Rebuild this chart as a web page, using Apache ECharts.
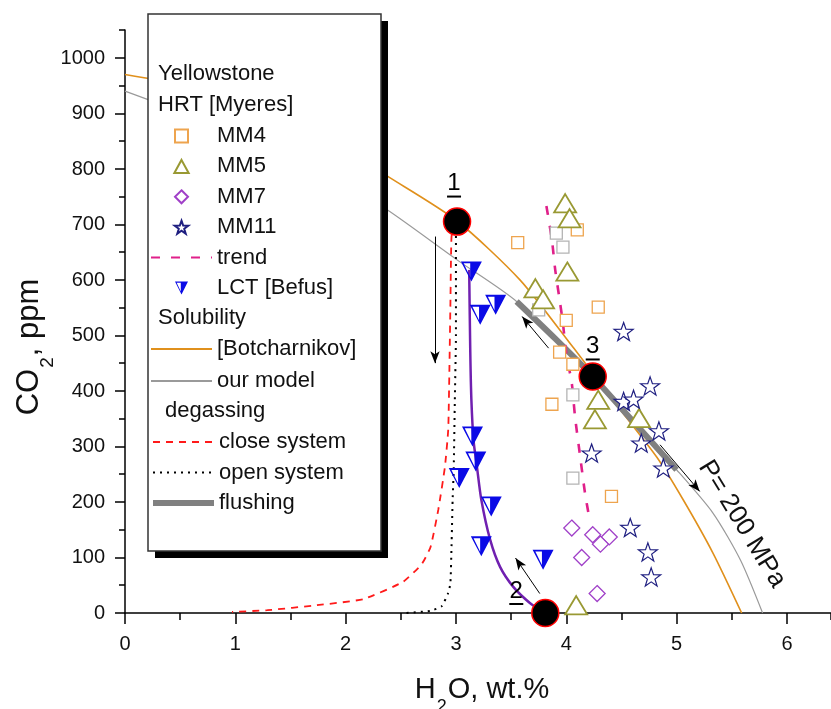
<!DOCTYPE html>
<html>
<head>
<meta charset="utf-8">
<title>CO2 - H2O Yellowstone</title>
<script src="https://cdn.jsdelivr.net/npm/echarts@6/dist/echarts.min.js"></script>
<style>
  html, body { margin: 0; padding: 0; background: #fff; }
  #chart { width: 831px; height: 709px; }
</style>
</head>
<body>
<div id="chart"></div>
<script>
// solubility curves at P = 200 MPa (H2O wt.%, CO2 ppm)
var botcharnikov = [[0,970],[0.5,952],[1,923],[1.5,883],[2,832],[2.4,784],[3.01,706],[3.58,600],[4.06,479],[4.24,432],[4.49,366],[4.82,281],[5.06,204],[5.33,108],[5.59,0]];
var ourModel = [[0,940],[0.5,903],[1,863],[1.5,820],[2,772],[2.4,723],[3.01,636],[3.55,561],[4.24,426],[5.0,258],[5.33,180],[5.58,95],[5.78,0]];
var flushing = [[3.55,561],[3.9,494],[4.24,426],[4.62,342],[5.0,258]];
// degassing paths
var closeSystem = [[2.99,704],[2.96,678],[2.95,558],[2.94,430],[2.93,330],[2.9,263],[2.84,186],[2.77,119],[2.69,88],[2.52,56],[2.16,25],[1.74,14],[1.29,5],[0.97,2]];
var openSystem = [[3.0,704],[3.0,500],[2.99,384],[2.98,260],[2.97,204],[2.96,120],[2.95,54],[2.93,36],[2.87,12],[2.77,4],[2.55,0]];
var trend = [[3.82,733],[3.87,672],[3.9,618],[3.94,564],[3.97,522],[4.0,468],[4.05,414],[4.08,353],[4.13,276],[4.17,216],[4.21,170]];
var lctLine = [[3.12,618],[3.13,470],[3.14,384],[3.16,310],[3.19,264],[3.23,204],[3.31,132],[3.4,83],[3.52,47],[3.67,18],[3.79,2]];
// melt inclusions
var mm4 = [[4.10,690],[3.56,667],[4.29,551],[4.0,527],[3.94,470],[4.06,448],[3.87,376],[4.41,210]];
var mm4Grey = [[3.91,684],[3.97,659],[3.75,546],[4.06,393],[4.06,243]];
var mm5 = [[3.99,738],[4.03,711],[4.01,615],[3.72,585],[3.79,565],[4.29,384],[4.26,349],[4.66,351],[4.09,14]];
var mm7 = [[4.05,153],[4.24,141],[4.39,137],[4.31,124],[4.14,100],[4.28,35]];
var mm11 = [[4.52,507],[4.76,409],[4.52,381],[4.61,385],[4.84,328],[4.68,306],[4.23,288],[4.88,261],[4.58,154],[4.74,110],[4.77,65]];
var lct = [[3.14,615],[3.22,537],[3.36,555],[3.15,318],[3.18,273],[3.03,243],[3.32,192],[3.23,120],[3.79,96]];
// key points and arrows
var keyPoints = [[3.01,705],[3.81,0],[4.24,426]];
var keyNames = ['1', '2', '3'];
var keyLabelOffsets = [[-3,-36],[-29,-20],[0,-28]];
var arrows = [
  [[2.81,678],[2.81,450]],
  [[3.76,35],[3.54,99]],
  [[3.84,477],[3.60,534]],
  [[4.85,303],[5.21,219]]
];

var FONT = 'Liberation Sans, Arial, sans-serif';
var squarePath = 'path://M0,0L10,0L10,10L0,10Z';
var trianglePath = 'path://M11,0L22,20L0,20Z';
var diamondPath = 'path://M5,0L10,5L5,10L0,5Z';
var starPath = 'path://M10,0L12.35,6.76L19.51,6.91L13.8,11.24L15.88,18.09L10,14L4.12,18.09L6.2,11.24L0.49,6.91L7.65,6.76Z';
var halfTriPath = 'path://M0,0L20,0L10,20ZM2.6,1.8L8.9,15.4L8.9,1.8Z';

var chart = echarts.init(document.getElementById('chart'));

function lineSeries(name, data, color, width, type, extra) {
  var s = {
    name: name, type: 'line', data: data, symbol: 'none', smooth: 0.25,
    lineStyle: { color: color, width: width, type: type || 'solid' },
    itemStyle: { color: color },
    z: 2
  };
  for (var k in extra) s[k] = extra[k];
  return s;
}

function scatterSeries(name, data, symbol, size, style) {
  style.opacity = 1;
  return { name: name, type: 'scatter', data: data, symbol: symbol, symbolSize: size,
    symbolKeepAspect: true, z: 3, itemStyle: style };
}

// legend entries for lines show only the line, no marker
function lineItem(name, width) {
  var it = { name: name, itemStyle: { opacity: 0 } };
  if (width) it.lineStyle = { width: width };
  return it;
}

var keyData = keyPoints.map(function (p, i) {
  return {
    value: p,
    label: {
      show: true, position: 'inside', offset: keyLabelOffsets[i],
      formatter: '{n|' + keyNames[i] + '}\n{u| }',
      rich: {
        n: { fontSize: 24, fontFamily: FONT, color: '#000', lineHeight: 22, align: 'center' },
        u: { width: 14, height: 2, lineHeight: 4, backgroundColor: '#000', align: 'center', fontSize: 2 }
      }
    }
  };
});

var arrowData = arrows.map(function (a) {
  return [{ coord: a[0], symbol: 'none' }, { coord: a[1], symbol: 'arrow', symbolSize: [7, 12] }];
});

var legendText = { fontSize: 22, fontFamily: FONT, color: '#111' };
var tickStyle = { color: '#000', width: 1.5 };

var option = {
  animation: false,
  backgroundColor: '#fff',
  grid: [
    { left: 125, right: 0, top: 30, bottom: 96 },
    { left: 125, right: 44, top: 58, bottom: 96 }
  ],
  xAxis: [
    {
      type: 'value', gridIndex: 0, min: 0, max: 6.4, interval: 0.5,
      axisLine: { show: true, onZero: false, lineStyle: tickStyle },
      axisTick: { show: true, length: 7, lineStyle: tickStyle },
      splitLine: { show: false },
      axisLabel: { show: false }
    },
    {
      type: 'value', gridIndex: 1, min: 0, max: 6, interval: 1,
      axisLine: { show: false },
      axisTick: { show: true, length: 11, lineStyle: tickStyle },
      splitLine: { show: false },
      axisLabel: { fontSize: 20, fontFamily: FONT, color: '#111', margin: 21 }
    }
  ],
  yAxis: [
    {
      type: 'value', gridIndex: 0, min: 0, max: 1050, interval: 50,
      axisLine: { show: true, onZero: false, lineStyle: tickStyle },
      axisTick: { show: true, length: 6, lineStyle: tickStyle },
      splitLine: { show: false },
      axisLabel: { show: false }
    },
    {
      type: 'value', gridIndex: 1, min: 0, max: 1000, interval: 100,
      axisLine: { show: false },
      axisTick: { show: true, length: 10, lineStyle: tickStyle },
      splitLine: { show: false },
      axisLabel: { fontSize: 20, fontFamily: FONT, color: '#111', margin: 20,
        formatter: function (v) { return String(v); } }
    }
  ],
  legend: [
    { orient: 'vertical', left: 150, top: 125, padding: 0, itemWidth: 61, itemHeight: 13, itemGap: 8.4,
      selectedMode: false, textStyle: legendText, z: 6,
      data: ['MM4', 'MM5', 'MM7', 'MM11', lineItem('trend'), 'LCT [Befus]'] },
    { orient: 'vertical', left: 150, top: 338, padding: 0, itemWidth: 61, itemHeight: 13, itemGap: 10,
      selectedMode: false, textStyle: legendText, z: 6,
      data: [lineItem('[Botcharnikov]'), lineItem('our model')] },
    { orient: 'vertical', left: 150, top: 431, padding: 0, itemWidth: 61, itemHeight: 13, itemGap: 8.5,
      selectedMode: false, textStyle: legendText, z: 6,
      data: [lineItem('close system'), lineItem('open system'), lineItem('flushing', 6)] }
  ],
  graphic: [
    { type: 'rect', z: 3, shape: { x: 155, y: 21, width: 233, height: 537 }, style: { fill: '#000' } },
    { type: 'rect', z: 4, shape: { x: 148, y: 14, width: 233, height: 537 },
      style: { fill: '#fff', stroke: '#333', lineWidth: 1.5 } },
    { type: 'text', z: 7, style: { text: 'Yellowstone', x: 158, y: 74, verticalAlign: 'middle', fontSize: 22, fontFamily: FONT, fill: '#111' } },
    { type: 'text', z: 7, style: { text: 'HRT [Myeres]', x: 158, y: 105, verticalAlign: 'middle', fontSize: 22, fontFamily: FONT, fill: '#111' } },
    { type: 'text', z: 7, style: { text: 'Solubility', x: 158, y: 318, verticalAlign: 'middle', fontSize: 22, fontFamily: FONT, fill: '#111' } },
    { type: 'text', z: 7, style: { text: 'degassing', x: 165, y: 411, verticalAlign: 'middle', fontSize: 22, fontFamily: FONT, fill: '#111' } },
    { type: 'text', z: 7, x: 742, y: 524, rotation: -58.5 * Math.PI / 180,
      style: { text: 'P= 200 MPa', align: 'center', verticalAlign: 'middle', fontSize: 26, fontFamily: FONT, fill: '#111' } },
    { type: 'text', z: 7, x: 482, y: 690,
      style: { text: '{a|H}{s|2}{a|O, wt.%}', align: 'center', verticalAlign: 'middle',
        rich: {
          a: { fontSize: 29, fontFamily: FONT, fill: '#111', lineHeight: 30, verticalAlign: 'top' },
          s: { fontSize: 18, fontFamily: FONT, fill: '#111', lineHeight: 18, verticalAlign: 'top', padding: [23, 1, 0, 1] }
        } } },
    { type: 'text', z: 7, x: 30, y: 347, rotation: Math.PI / 2,
      style: { text: '{a|CO}{s|2}{a|, ppm}', align: 'center', verticalAlign: 'middle',
        rich: {
          a: { fontSize: 31, fontFamily: FONT, fill: '#111', lineHeight: 32, verticalAlign: 'top' },
          s: { fontSize: 19, fontFamily: FONT, fill: '#111', lineHeight: 19, verticalAlign: 'top', padding: [24, 1, 0, 1] }
        } } }
  ],
  series: [
    lineSeries('[Botcharnikov]', botcharnikov, '#e0901c', 1.6),
    lineSeries('our model', ourModel, '#9a9a9a', 1.2),
    lineSeries('flushing', flushing, '#808080', 6),
    lineSeries('close system', closeSystem, '#ff1a1a', 1.8, [7, 6], { smooth: 0.15 }),
    lineSeries('open system', openSystem, '#000000', 2, [2, 5], { smooth: 0.15 }),
    lineSeries('trend', trend, '#e0208a', 2.6, [9, 11]),
    lineSeries('lctLine', lctLine, '#7020b0', 2.5),
    scatterSeries('MM4', mm4, squarePath, 12, { color: '#ffffff', borderColor: '#eea44e', borderWidth: 1.3 }),
    scatterSeries('mm4grey', mm4Grey, squarePath, 12, { color: '#ffffff', borderColor: '#b4b4b4', borderWidth: 1.3 }),
    scatterSeries('MM5', mm5, trianglePath, [22, 20], { color: '#ffffff', borderColor: '#999933', borderWidth: 1.8 }),
    scatterSeries('MM7', mm7, diamondPath, 16, { color: '#ffffff', borderColor: '#a040c8', borderWidth: 1.3 }),
    scatterSeries('MM11', mm11, starPath, 19, { color: '#ffffff', borderColor: '#1e1e80', borderWidth: 1.2 }),
    scatterSeries('LCT [Befus]', lct, halfTriPath, [21, 20], { color: '#0a0ae6' }),
    { name: 'keyPoints', type: 'scatter', data: keyData, symbol: 'circle', symbolSize: 27, z: 5,
      itemStyle: { color: '#000', borderColor: '#ff0000', borderWidth: 1.5, opacity: 1 },
      markLine: { silent: true, animation: false, label: { show: false },
        lineStyle: { color: '#000', width: 1, type: 'solid' },
        symbol: ['none', 'arrow'], data: arrowData } }
  ]
};

chart.setOption(option);
</script>
</body>
</html>
